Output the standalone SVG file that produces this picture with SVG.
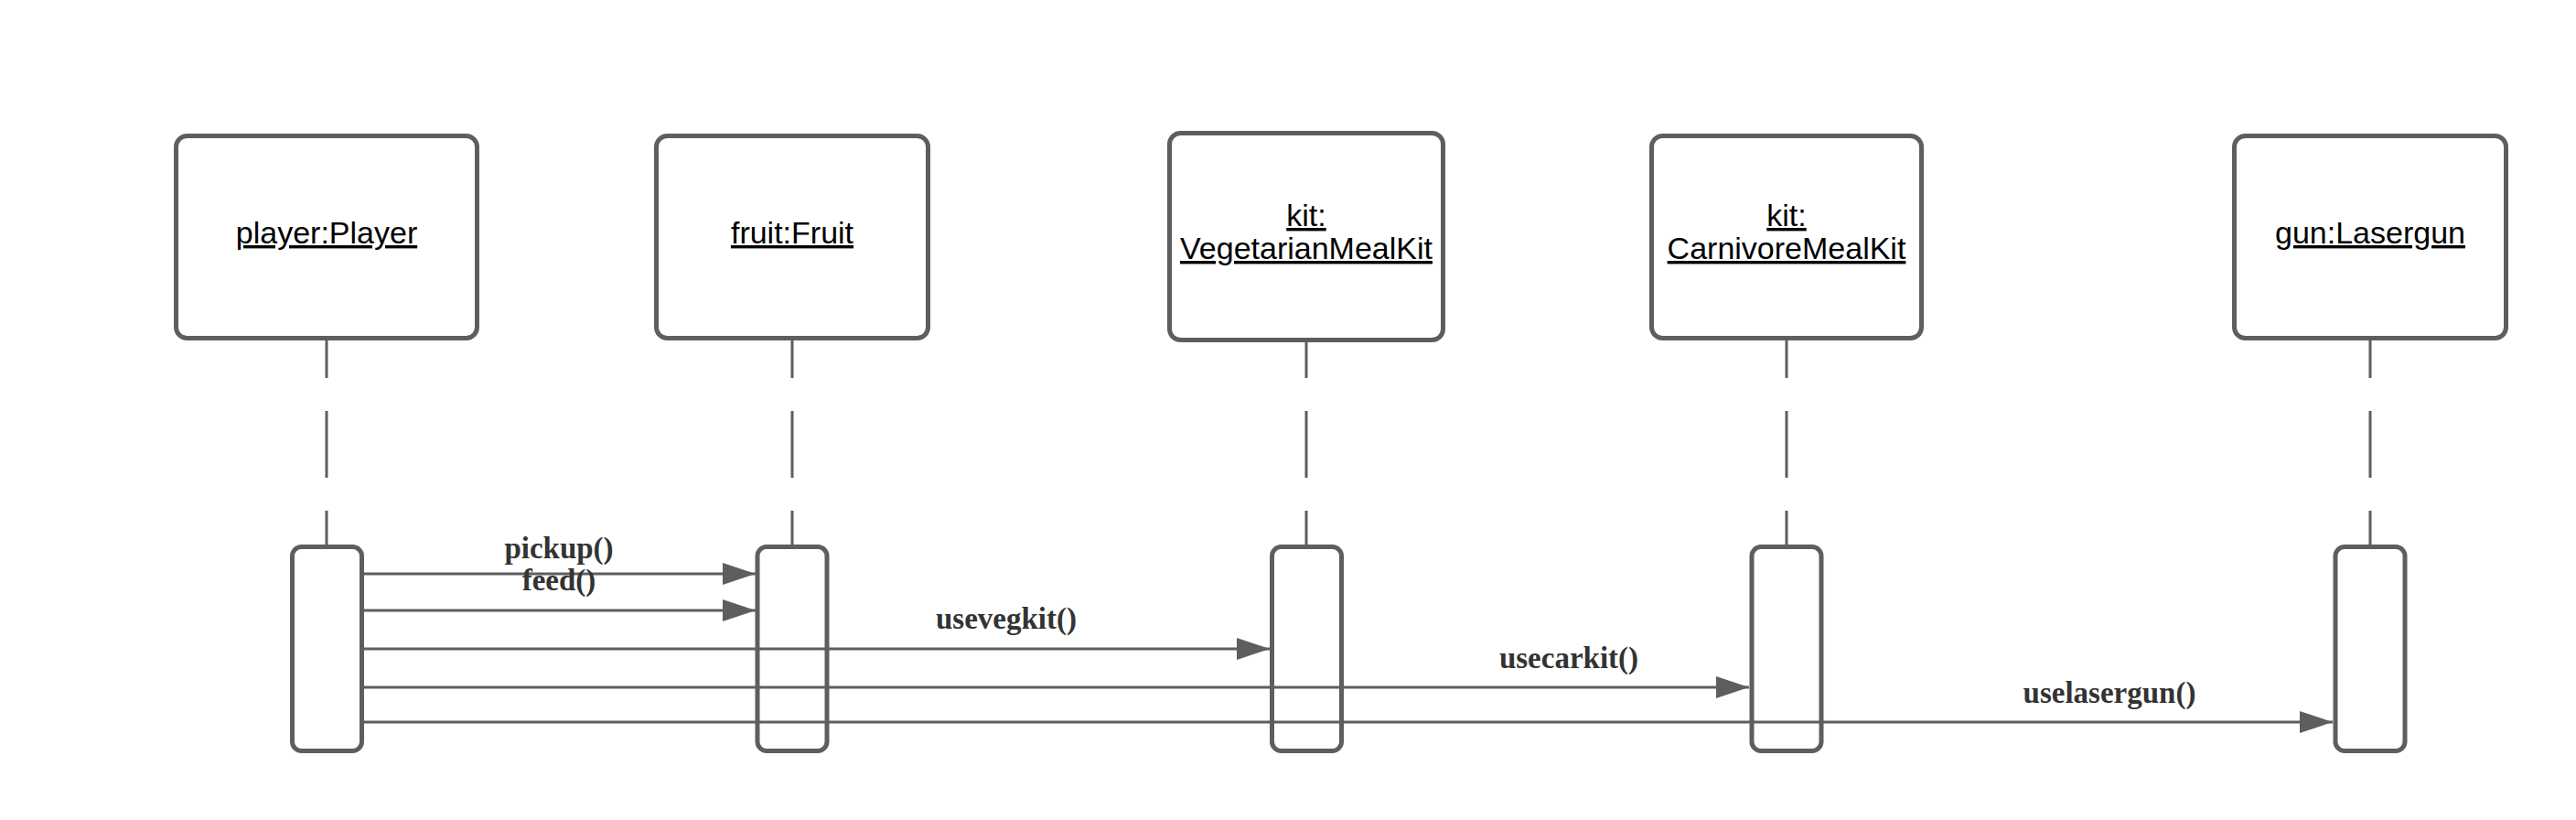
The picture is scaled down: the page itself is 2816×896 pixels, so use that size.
<svg xmlns="http://www.w3.org/2000/svg" width="2816" height="896" viewBox="0 0 2816 896">
<style>
.box{fill:#ffffff;stroke:#5e5e5e;stroke-width:5}
.act{fill:#ffffff;stroke:#5e5e5e;stroke-width:5}
.life{stroke:#5e5e5e;stroke-width:3;fill:none}
.msg{stroke:#5e5e5e;stroke-width:3;fill:none}
.name{font-family:"Liberation Sans",Arial,sans-serif;font-size:34px;fill:#000000;text-anchor:middle;text-decoration:underline}
.lbl{font-family:"Liberation Serif","Times New Roman",serif;font-size:33px;font-weight:bold;fill:#333333;text-anchor:middle}
</style>
<defs>
<marker id="arr" viewBox="0 0 12 8" refX="12" refY="4" markerWidth="12" markerHeight="8" markerUnits="strokeWidth" orient="auto">
<path d="M0,0 L12,4 L0,8 Z" fill="#5e5e5e"/>
</marker>
</defs>
<rect width="2816" height="896" fill="#ffffff"/>
<g id="lifelines">
<path class="life" d="M357,372 V413 M357,449 V522 M357,558 V597"/>
<path class="life" d="M866,372 V413 M866,449 V522 M866,558 V597"/>
<path class="life" d="M1428,374 V413 M1428,449 V522 M1428,558 V597"/>
<path class="life" d="M1953,372 V413 M1953,449 V522 M1953,558 V597"/>
<path class="life" d="M2591,372 V413 M2591,449 V522 M2591,558 V597"/>
</g>
<g id="player">
<rect class="box" x="192.5" y="148.5" width="329" height="221" rx="12"/>
<text class="name" x="357" y="266">player:Player</text>
<rect class="act" x="319.5" y="597.5" width="76" height="223" rx="10"/>
</g>
<g id="fruit">
<rect class="box" x="717.5" y="148.5" width="297" height="221" rx="12"/>
<text class="name" x="866" y="266">fruit:Fruit</text>
<rect class="act" x="828" y="597.5" width="76" height="223" rx="10"/>
</g>
<g id="vegkit">
<rect class="box" x="1278.5" y="145.5" width="299" height="226" rx="12"/>
<text class="name" x="1428" y="247">kit:</text>
<text class="name" x="1428" y="283">VegetarianMealKit</text>
<rect class="act" x="1390.5" y="597.5" width="76" height="223" rx="10"/>
</g>
<g id="carnkit">
<rect class="box" x="1805.5" y="148.5" width="295" height="221" rx="12"/>
<text class="name" x="1953" y="247">kit:</text>
<text class="name" x="1953" y="283">CarnivoreMealKit</text>
<rect class="act" x="1915" y="597.5" width="76" height="223" rx="10"/>
</g>
<g id="gun">
<rect class="box" x="2442.5" y="148.5" width="297" height="221" rx="12"/>
<text class="name" x="2591" y="266">gun:Lasergun</text>
<rect class="act" x="2553" y="597.5" width="76" height="223" rx="10"/>
</g>
<g id="connectors">
<line class="msg" x1="398" y1="627" x2="826" y2="627" marker-end="url(#arr)"/>
<line class="msg" x1="398" y1="667" x2="826" y2="667" marker-end="url(#arr)"/>
<line class="msg" x1="398" y1="709" x2="1388" y2="709" marker-end="url(#arr)"/>
<line class="msg" x1="398" y1="751" x2="1912" y2="751" marker-end="url(#arr)"/>
<line class="msg" x1="398" y1="789" x2="2550" y2="789" marker-end="url(#arr)"/>
<text class="lbl" x="611" y="610">pickup()</text>
<text class="lbl" x="611" y="645">feed()</text>
<text class="lbl" x="1100" y="687">usevegkit()</text>
<text class="lbl" x="1715" y="730">usecarkit()</text>
<text class="lbl" x="2306" y="768">uselasergun()</text>
</g>
</svg>
